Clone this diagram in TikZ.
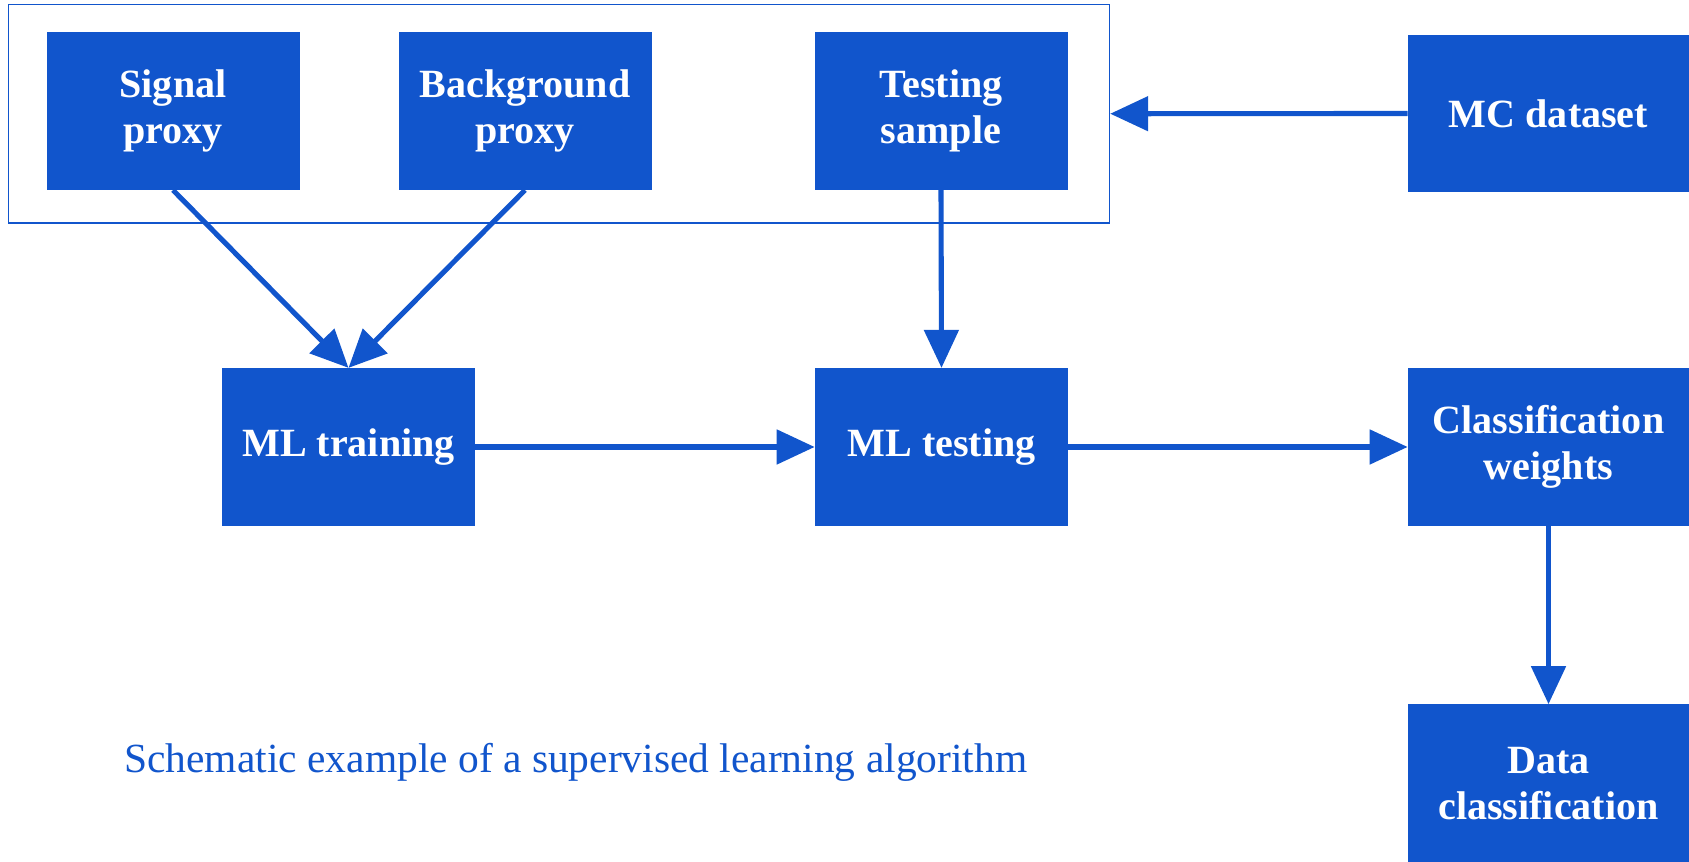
\documentclass[tikz,border=0pt]{standalone}
\usepackage{fontspec}
\setmainfont{Liberation Serif}
\usepackage{tikz}
\usetikzlibrary{arrows.meta}

\definecolor{boxblue}{RGB}{17,85,204}

\begin{document}
\begin{tikzpicture}[
    block/.style={fill=boxblue,text=white,align=center,inner sep=0pt,
                  minimum width=5.06cm,minimum height=3.15cm,
                  font=\bfseries\fontsize{22.8}{26}\selectfont},
    edgeblock/.style={block,minimum width=5.62cm},
    flow/.style={draw=boxblue,line width=2.9pt,-{Triangle[length=0.76cm,width=0.68cm]}}]
                 \useasboundingbox (0,0) rectangle (33.78,17.24);
                 % frame round the three inputs
                 \node[draw=boxblue,line width=0.8pt,minimum width=22.02cm,minimum height=4.37cm,inner sep=0pt](frame)at(11.18,14.965){};
                 \node[block](sig)at(3.46,15.02){Signal\\proxy};
                 \node[block](bkg)at(10.50,15.02){Background\\proxy};
                 \node[block](tsam)at(18.82,15.02){Testing\\sample};
                 \node[edgeblock](mc)at(30.97,14.97){MC dataset};
                 \node[block](train)at(6.97,8.30){ML training};
                 \node[block](mltest)at(18.83,8.30){ML testing};
                 \node[edgeblock](weights)at(30.97,8.30){Classification\\weights};
                 \node[edgeblock](dcl)at(30.97,1.575){Data\\classification};
                 \node[anchor=west,inner sep=0pt,text=boxblue,font=\fontsize{23.6}{26}\selectfont](cap)at(2.48,2.0){Schematic example of a supervised learning algorithm};
                 % connectors
                 \draw[flow](sig.south)--(train.north);
                 \draw[flow](bkg.south)--(train.north);
                 \draw[flow](tsam.south)--(mltest.north);
                 \draw[flow](mc.west)--(frame.east);
                 \draw[flow](train.east)--(mltest.west);
                 \draw[flow](mltest.east)--(weights.west);
                 \draw[flow](weights.south)--(dcl.north);
               \end{tikzpicture}
\end{document}
